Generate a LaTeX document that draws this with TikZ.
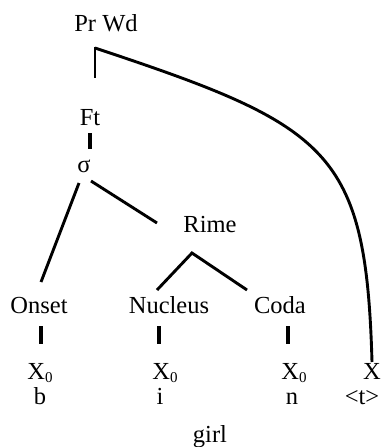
\documentclass[tikz,border=0pt]{standalone}
\usepackage{fontspec}
\setmainfont{Liberation Serif}
\usetikzlibrary{calc}
\newcommand{\Xsub}{X\raisebox{-3pt}{\fontsize{15}{15}\selectfont 0}}
\begin{document}
\begin{tikzpicture}[x=1pt,y=-1pt,
  lbl/.style={anchor=base,inner sep=0pt,font=\fontsize{24.5}{29}\selectfont},
  edge/.style={line width=2.9pt},
  stub/.style={line width=3.6pt}]
\useasboundingbox (0,0) rectangle (383,447);
\node[lbl] (prwd) at (106,31) {Pr Wd};
\node[lbl] (ft) at (90,125) {Ft};
\node[lbl] (sig) at (84,172) {σ};
\node[lbl] (rime) at (210,232) {Rime};
\node[lbl] (onset) at (39,313) {Onset};
\node[lbl] (nucleus) at (169,313) {Nucleus};
\node[lbl] (coda) at (280,313) {Coda};
\node[lbl] (x1) at (40,379) {\Xsub};
\node[lbl] (x2) at (165,379) {\Xsub};
\node[lbl] (x3) at (294,379) {\Xsub};
\node[lbl] (x4) at (372,379) {X};
\node[lbl] (b) at (40,404) {b};
\node[lbl] (i) at (160,404) {i};
\node[lbl] (n) at (292,404) {n};
\node[lbl] (t) at (362,404) {<t>};
\node[lbl] (girl) at (210,442) {girl};
% connectors
\draw[edge] ([shift={(-11,16)}]prwd.base) -- ([shift={(-11,47)}]prwd.base);
\draw[edge] ([shift={(-11,17)}]prwd.base) .. controls (330,126) and (366,150) .. ([shift={(0,-17)}]x4.base);
\draw[stub] ([shift={(0,8)}]ft.base) -- ([shift={(6,-23)}]sig.base);
\draw[edge] ([shift={(-5,11)}]sig.base) -- ([shift={(2,-31)}]onset.base);
\draw[edge] ([shift={(7,9)}]sig.base) -- ([shift={(-53,-9)}]rime.base);
\draw[edge] ([shift={(-12,-23)}]nucleus.base) -- ([shift={(-18,21)}]rime.base) -- ([shift={(-33,-23)}]coda.base);
\draw[stub] ([shift={(2,13)}]onset.base) -- ([shift={(1,-35)}]x1.base);
\draw[stub] ([shift={(-10,13)}]nucleus.base) -- ([shift={(-6,-35)}]x2.base);
\draw[stub] ([shift={(8,13)}]coda.base) -- ([shift={(-6,-35)}]x3.base);
\end{tikzpicture}
\end{document}
